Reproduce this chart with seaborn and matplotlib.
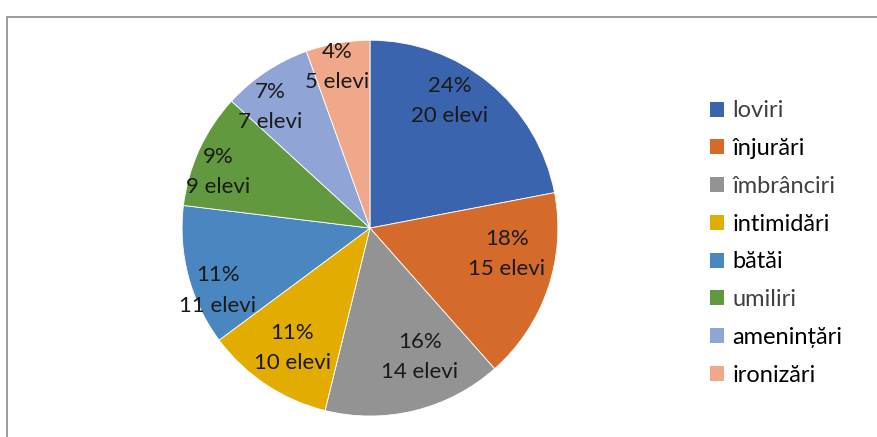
import matplotlib
matplotlib.use("Agg")
import numpy as np
import matplotlib.pyplot as plt
import matplotlib.patches as mpatches
import seaborn as sns

# data
categories = ['loviri', 'înjurări', 'îmbrânciri', 'intimidări', 'bătăi', 'umiliri', 'amenințări', 'ironizări']
students = [20, 15, 14, 10, 11, 9, 7, 5]
percent_labels = ['24%', '18%', '16%', '11%', '11%', '9%', '7%', '4%']
colors = ['#3A64AD', '#D46B2A', '#939393', '#E2AC00', '#4A87C0', '#62993E', '#90A5D6', '#F0A88A']
legend_text_colors = ['#404040', '#000000', '#404040', '#000000', '#000000', '#404040', '#000000', '#000000']
# data label placement: fraction of radius and angular nudge (deg) from wedge middle
label_dist = [0.80, 0.74, 0.735, 0.76, 0.875, 0.86, 0.835, 0.875]
label_shift = [7.4, 8.1, 7.2, 0.6, 7.5, 4.5, 6.0, 1.6]

sns.set_theme(style='white')
plt.rcParams['font.family'] = ['Lato', 'Open Sans', 'DejaVu Sans']

fig = plt.figure(figsize=(8.78, 4.37), dpi=100)

# gray chart frame (top and left visible, rest is cut off)
frame = mpatches.Rectangle((7 / 878, -0.05), 1.1, (437 - 17) / 437 + 0.05,
                           transform=fig.transFigure, fill=False,
                           edgecolor='#8C8C8C', linewidth=1.2)
fig.patches.append(frame)

ax = fig.add_axes([0.2073, 0.048, 0.4282, 0.860])
wedges, _ = ax.pie(students, colors=colors, startangle=90, counterclock=False,
                   wedgeprops=dict(edgecolor='white', linewidth=0.6))
for w, p, n, d, s in zip(wedges, percent_labels, students, label_dist, label_shift):
    ang = np.deg2rad((w.theta1 + w.theta2) / 2 + s)
    ax.text(d * np.cos(ang), d * np.sin(ang), f"{p}\n{n} elevi", ha='center', va='center',
            fontsize=16, color='#1a1a1a', linespacing=1.65)
ax.set_xlim(-1, 1)
ax.set_ylim(-1, 1)
ax.set_aspect('equal')
ax.axis('off')

handles = [mpatches.Patch(facecolor=c, edgecolor='none') for c in colors]
leg = fig.legend(handles, categories, loc='center left', bbox_to_anchor=(689 / 878, 1 - 243 / 437),
                 frameon=False, fontsize=17, handlelength=0.6, handleheight=0.6,
                 handletextpad=0.35, labelspacing=0.71)
for txt, c in zip(leg.get_texts(), legend_text_colors):
    txt.set_color(c)

fig.savefig('out.png', dpi=100)
